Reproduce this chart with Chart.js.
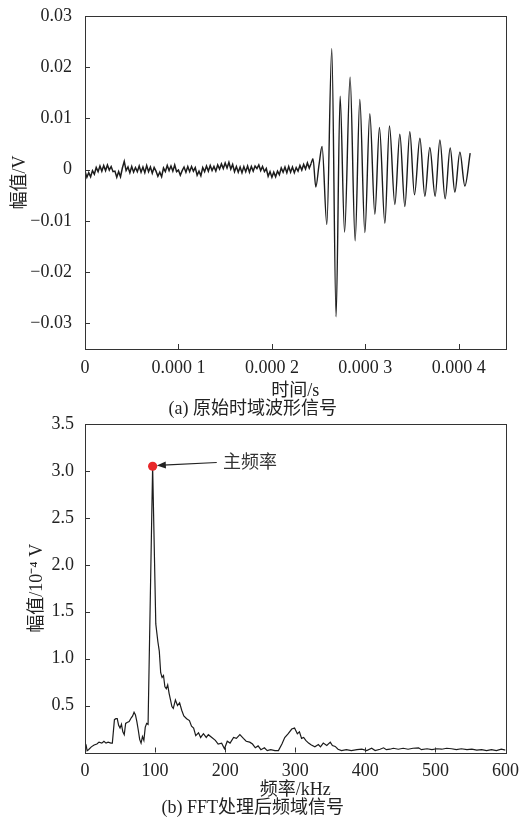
<!DOCTYPE html>
<html>
<head>
<meta charset="utf-8">
<script src="https://cdn.jsdelivr.net/npm/chart.js@4.4.1/dist/chart.umd.min.js"></script>
<style>
  html, body { margin: 0; padding: 0; background: #fff; }
  body { width: 527px; height: 819px; position: relative; overflow: hidden; }
  canvas { position: absolute; left: 0; }
  #c1 { top: 0; }
  #c2 { top: 405px; }
</style>
</head>
<body>
<canvas id="c1" width="527" height="420"></canvas>
<canvas id="c2" width="527" height="414"></canvas>
<script>
// ---------- (a) time-domain waveform (time in units of 1e-4 s, amplitude in V) ----------
const noiseStart = 0;        // first sample time of the pre-trigger noise record
const noiseStep = 0.02;      // sample spacing of the noise record
const noiseAmp = [
  -0.0003,-0.0015,-0.0006,-0.0014,-0.0002,-0.0009,0.0004,-0.0004,0.0007,-0.0003,
  0.0008,-0.0002,0.0009,-0.0001,0.0006,-0.0004,-0.0003,-0.0015,-0.0004,-0.0014,
  0.0003,0.0016,-0.0002,0.0005,-0.0006,0.0006,-0.0005,0.0004,-0.0004,0.0007,
  -0.0005,0.0005,-0.0006,0.0008,-0.0004,0.0005,-0.0007,0.0004,-0.0003,-0.0013,
  -0.0005,-0.0014,0.0003,-0.0004,0.0008,-0.0002,0.0007,-0.0003,0.0009,-0.0004,
  -0.0001,-0.0011,-0.0002,0.0005,-0.0005,0.0006,-0.0004,0.0006,-0.0003,0.0004,
  -0.0011,-0.0003,-0.0012,0.0004,-0.0004,0.0007,-0.0003,0.0008,-0.0002,0.0006,
  -0.0003,0.0009,0.0001,0.0011,0.0002,0.0013,0.0003,0.0014,0.0001,0.0010,
  -0.0004,0.0006,-0.0005,0.0005,-0.0006,0.0006,-0.0004,0.0007,-0.0005,0.0006,
  -0.0003,0.0007,0.0002,0.0009,-0.0002,0.0006,-0.0004,0.0002,-0.0013,-0.0004,
  -0.0015,-0.0005,-0.0014,-0.0003,-0.0010,0.0003,-0.0005,0.0005,-0.0006,0.0006,
  -0.0005,0.0005,-0.0006,0.0004,-0.0003,0.0008,-0.0001,0.0010,0.0001,0.0013,
  0.0003,0.0012
];
const burstTime = [2.42,2.44,2.47,2.505,2.537,2.588,2.641,2.687,2.730,2.778,
  2.837,2.891,2.941,2.995,3.048,3.102,3.151,3.209,3.258,3.316,
  3.369,3.423,3.476,3.526,3.584,3.637,3.690,3.747,3.798,3.854,
  3.908,3.958,4.012,4.065,4.122];
const burstAmp = [0.0012,0.0021,-0.0034,0.0010,0.0045,-0.0107,0.0236,-0.0287,0.0143,-0.0122,
  0.0180,-0.0139,0.0137,-0.0123,0.0109,-0.0087,0.0082,-0.0105,0.0085,-0.0068,
  0.0069,-0.0072,0.0074,-0.0049,0.0061,-0.0052,0.0043,-0.0052,0.0058,-0.0057,
  0.0042,-0.0044,0.0034,-0.0032,0.0032];
const timeTickValues = [0,1,2,3,4];
const timeTickLabels = ['0','0.000 1','0.000 2','0.000 3','0.000 4'];
const voltTickValues = [-0.03,-0.02,-0.01,0,0.01,0.02,0.03];
const voltTickLabels = ['\u22120.03','\u22120.02','\u22120.01','0','0.01','0.02','0.03'];

// ---------- (b) FFT spectrum (frequency in kHz, amplitude in 1e-4 V) ----------
const freqKHz = [0,1.5,3,5,9,13,17,20,24,27,
  30,33,37,39,42,44,46,48,50,52,
  54,56,58,60,63,66,68,70,72,74,
  76,78,80,82,84,86,88,90,96.5,101,
  104,106,108,110,112,114,116,118,120,122,
  124,126,129,132,135,138,141,145,149,152,
  155,158,162,165,169,173,176,181,186,190,
  195,199,203,207,212,216,221,226,230,235,
  239,243,247,251,256,260,265,271,276,281,
  285,290,295,299,303,306,309,312,315,319,
  323,328,333,336,340,345,350,353,357,361,
  366,373,380,388,395,402,409,414,421,426,
  430,435,440,447,454,461,468,476,480,488,
  495,502,509,516,523,530,537,545,552,559,
  566,573,580,587,594,600];
const specAmp = [0.10,0.08,0.02,0.03,0.06,0.08,0.09,0.11,0.10,0.12,
  0.10,0.11,0.10,0.10,0.35,0.36,0.36,0.29,0.26,0.30,
  0.22,0.19,0.31,0.32,0.33,0.37,0.39,0.43,0.40,0.33,
  0.24,0.14,0.10,0.17,0.13,0.27,0.31,0.30,3.05,1.37,
  1.18,1.08,0.85,0.80,0.82,0.70,0.68,0.72,0.63,0.56,
  0.49,0.47,0.56,0.50,0.53,0.45,0.39,0.36,0.34,0.28,
  0.26,0.18,0.21,0.16,0.20,0.16,0.19,0.16,0.13,0.09,
  0.10,0.04,0.12,0.10,0.16,0.15,0.19,0.15,0.12,0.11,
  0.09,0.05,0.07,0.03,0.05,0.02,0.03,0.02,0.02,0.09,
  0.16,0.20,0.25,0.26,0.20,0.22,0.15,0.16,0.13,0.10,
  0.08,0.06,0.085,0.06,0.10,0.075,0.11,0.075,0.065,0.035,
  0.02,0.03,0.02,0.03,0.035,0.02,0.045,0.02,0.035,0.05,
  0.03,0.035,0.045,0.035,0.045,0.035,0.045,0.05,0.03,0.04,
  0.03,0.04,0.035,0.045,0.04,0.03,0.04,0.03,0.035,0.025,
  0.03,0.02,0.03,0.02,0.035,0.025];
const mainFreq = {f: 96.5, a: 3.05};
const mainFreqLabel = '主频率';
const arrowTail = {f: 188, a: 3.09};
const arrowHead = {f: 102.5, a: 3.058};
const labelAnchor = {f: 197, a: 3.107};
const freqTickValues = [0,100,200,300,400,500,600];
const freqTickLabels = ['0','100','200','300','400','500','600'];
const specTickValues = [0.5,1.0,1.5,2.0,2.5,3.0,3.5];
const specTickLabels = ['0.5','1.0','1.5','2.0','2.5','3.0','3.5'];

// ---------- shared styling ----------
const FONT = "'Liberation Serif','Noto Sans CJK SC',serif";
const TXT = '#222';
const LINE = '#1c1c1c';

const framePlugin = {
  id: 'frame',
  afterDraw(chart) {
    const {ctx, chartArea: a, scales: {x, y}} = chart;
    ctx.save();
    ctx.strokeStyle = '#333';
    ctx.lineWidth = 1;
    ctx.strokeRect(Math.round(a.left) + 0.5, Math.round(a.top) + 0.5,
      Math.round(a.right - a.left), Math.round(a.bottom - a.top));
    ctx.beginPath();
    x.ticks.forEach(t => {
      const px = Math.round(x.getPixelForValue(t.value)) + 0.5;
      ctx.moveTo(px, a.bottom); ctx.lineTo(px, a.bottom - 5);
    });
    y.ticks.forEach(t => {
      const py = Math.round(y.getPixelForValue(t.value)) + 0.5;
      ctx.moveTo(a.left, py); ctx.lineTo(a.left + 5, py);
    });
    ctx.stroke();
    ctx.restore();
  }
};

const arrowPlugin = {
  id: 'arrow',
  afterDatasetsDraw(chart) {
    const {ctx, scales: {x, y}} = chart;
    const x1 = x.getPixelForValue(arrowTail.f), y1 = y.getPixelForValue(arrowTail.a);
    const x2 = x.getPixelForValue(arrowHead.f), y2 = y.getPixelForValue(arrowHead.a);
    const ang = Math.atan2(y2 - y1, x2 - x1);
    ctx.save();
    ctx.strokeStyle = '#222'; ctx.fillStyle = '#222'; ctx.lineWidth = 1.2;
    ctx.beginPath();
    ctx.moveTo(x1, y1);
    ctx.lineTo(x2 - 6 * Math.cos(ang), y2 - 6 * Math.sin(ang));
    ctx.stroke();
    ctx.beginPath();
    ctx.moveTo(x2, y2);
    ctx.lineTo(x2 - 9 * Math.cos(ang) + 3.5 * Math.sin(ang), y2 - 9 * Math.sin(ang) - 3.5 * Math.cos(ang));
    ctx.lineTo(x2 - 9 * Math.cos(ang) - 3.5 * Math.sin(ang), y2 - 9 * Math.sin(ang) + 3.5 * Math.cos(ang));
    ctx.closePath();
    ctx.fill();
    ctx.font = "18px 'Noto Sans CJK SC'";
    ctx.fillStyle = '#333';
    ctx.textAlign = 'left';
    ctx.textBaseline = 'middle';
    ctx.fillText(mainFreqLabel, x.getPixelForValue(labelAnchor.f), y.getPixelForValue(labelAnchor.a));
    ctx.restore();
  }
};

function axisX(min, max, values, labels, title, height, titlePad) {
  return {
    type: 'linear', min, max,
    grid: {display: false}, border: {display: false},
    afterBuildTicks: s => { s.ticks = values.map(v => ({value: v})); },
    afterFit: s => { s.height = height; },
    ticks: {
      autoSkip: false, maxRotation: 0, padding: 0, color: TXT,
      font: {family: FONT, size: 18},
      callback: v => labels[values.indexOf(v)]
    },
    title: {display: true, text: title, color: TXT, font: {family: FONT, size: 18}, padding: {top: 0, bottom: titlePad}}
  };
}
function axisY(min, max, values, labels, title, titlePad, tickPad) {
  return {
    type: 'linear', min, max,
    grid: {display: false}, border: {display: false},
    afterBuildTicks: s => { s.ticks = values.map(v => ({value: v})); },
    afterFit: s => { s.width = 85; },
    ticks: {
      autoSkip: false, padding: tickPad, color: TXT,
      font: {family: FONT, size: 18},
      callback: v => labels[values.indexOf(v)]
    },
    title: {display: true, text: title, color: TXT, font: {family: FONT, size: 18}, padding: {top: titlePad, bottom: 0}}
  };
}

// chart (a)
const noisePts = noiseAmp.map((v, i) => ({x: noiseStart + i * noiseStep, y: v}));
const burstPts = burstTime.map((t, i) => ({x: t, y: burstAmp[i]}));
new Chart(document.getElementById('c1'), {
  type: 'line',
  data: {datasets: [
    {data: noisePts, borderColor: LINE, borderWidth: 1.5, pointRadius: 0, tension: 0},
    {data: burstPts, borderColor: LINE, borderWidth: 1.4, pointRadius: 0, cubicInterpolationMode: 'monotone'}
  ]},
  options: {
    responsive: false, animation: false, devicePixelRatio: 1,
    layout: {padding: {top: 14, right: 21.5, left: 0, bottom: 0}},
    plugins: {
      legend: {display: false}, tooltip: {enabled: false},
      title: {display: true, position: 'bottom', text: '(a) 原始时域波形信号', color: TXT,
        font: {family: FONT, size: 18, weight: 'normal'}, padding: {top: 0, bottom: 0}}
    },
    scales: {
      x: axisX(0, 4.5, timeTickValues, timeTickLabels, '时间/s', 49.4, -3.5),
      y: axisY(-0.035, 0.03, voltTickValues, voltTickLabels, '幅值/V', 9, 5)
    }
  },
  plugins: [framePlugin]
});

// chart (b)
const specPts = freqKHz.map((f, i) => ({x: f, y: specAmp[i]}));
new Chart(document.getElementById('c2'), {
  type: 'line',
  data: {datasets: [
    {data: [{x: mainFreq.f, y: mainFreq.a}], showLine: false, pointRadius: 4.6, pointBackgroundColor: '#e8282a', pointBorderWidth: 0, clip: false},
    {data: specPts, borderColor: LINE, borderWidth: 1.2, pointRadius: 0, tension: 0}
  ]},
  options: {
    responsive: false, animation: false, devicePixelRatio: 1,
    layout: {padding: {top: 19, right: 21.5, left: 0, bottom: 0}},
    plugins: {
      legend: {display: false}, tooltip: {enabled: false},
      title: {display: true, position: 'bottom', text: '(b) FFT处理后频域信号', color: TXT,
        font: {family: FONT, size: 18, weight: 'normal'}, padding: {top: 0, bottom: 0}}
    },
    scales: {
      x: axisX(0, 600, freqTickValues, freqTickLabels, '频率/kHz', 44.9, -3.5),
      y: axisY(0, 3.5, specTickValues, specTickLabels, '幅值/10\u207B\u2074 V', 26, 3)
    }
  },
  plugins: [framePlugin, arrowPlugin]
});
</script>
</body>
</html>
